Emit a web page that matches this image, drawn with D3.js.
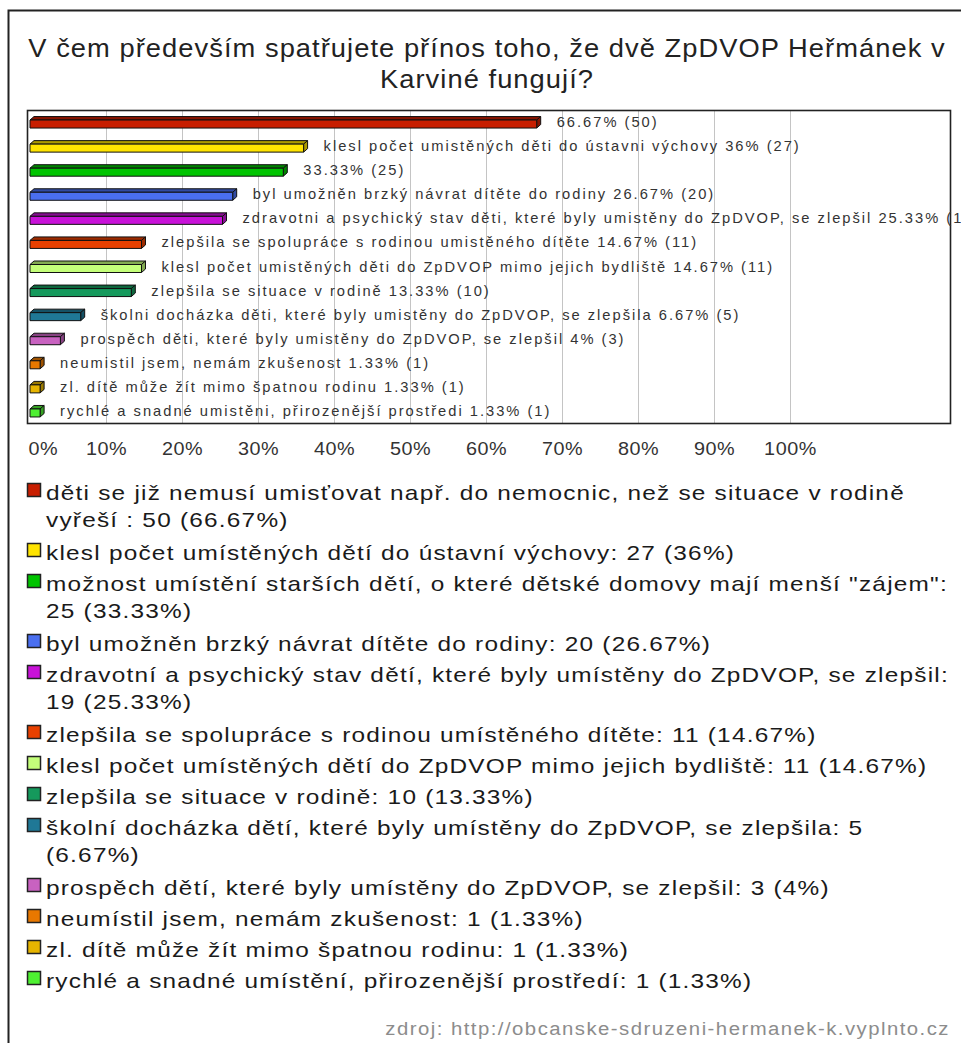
<!DOCTYPE html>
<html>
<head>
<meta charset="utf-8">
<script src="https://cdn.jsdelivr.net/npm/d3@7/dist/d3.min.js"></script>
<style>
  html, body { margin: 0; padding: 0; background: #fff; overflow: hidden; }
  svg { display: block; }
  text { font-family: "Liberation Sans", Arial, Helvetica, sans-serif; }
</style>
</head>
<body>
<svg id="chart" width="961" height="1043"></svg>
<script>
// ---------------- data ----------------
const titleLines = ["V čem především spatřujete přínos toho, že dvě ZpDVOP Heřmánek v", "Karviné fungují?"];
const categories = [
  "děti se již nemusí umisťovat např. do nemocnic, než se situace v rodině vyřeší ",
  "klesl počet umístěných dětí do ústavní výchovy",
  "možnost umístění starších dětí, o které dětské domovy mají menší \"zájem\"",
  "byl umožněn brzký návrat dítěte do rodiny",
  "zdravotní a psychický stav dětí, které byly umístěny do ZpDVOP, se zlepšil",
  "zlepšila se spolupráce s rodinou umístěného dítěte",
  "klesl počet umístěných dětí do ZpDVOP mimo jejich bydliště",
  "zlepšila se situace v rodině",
  "školní docházka dětí, které byly umístěny do ZpDVOP, se zlepšila",
  "prospěch dětí, které byly umístěny do ZpDVOP, se zlepšil",
  "neumístil jsem, nemám zkušenost",
  "zl. dítě může žít mimo špatnou rodinu",
  "rychlé a snadné umístění, přirozenější prostředí"
];
const barLabels = [
  "",
  "klesl počet umistěných děti do ústavni výchovy",
  "",
  "byl umožněn brzký návrat dítěte do rodiny",
  "zdravotni a psychický stav děti, které byly umistěny do ZpDVOP, se zlepšil",
  "zlepšila se spolupráce s rodinou umistěného dítěte",
  "klesl počet umistěných děti do ZpDVOP mimo jejich bydliště",
  "zlepšila se situace v rodině",
  "školni docházka děti, které byly umistěny do ZpDVOP, se zlepšila",
  "prospěch děti, které byly umistěny do ZpDVOP, se zlepšil",
  "neumistil jsem, nemám zkušenost",
  "zl. dítě může žít mimo špatnou rodinu",
  "rychlé a snadné umistěni, přirozenější prostředi"
];
const counts   = [50, 27, 25, 20, 19, 11, 11, 10, 5, 3, 1, 1, 1];
const percents = [66.67, 36, 33.33, 26.67, 25.33, 14.67, 14.67, 13.33, 6.67, 4, 1.33, 1.33, 1.33];
const colors = ["#c81e00", "#ffe400", "#00c400", "#4a6ff0", "#c812d8", "#e84000", "#c4ff7a",
                "#15995c", "#1f7896", "#c862c0", "#e87800", "#e6b400", "#4ef032"];
const xTicks = [0, 10, 20, 30, 40, 50, 60, 70, 80, 90, 100];
const sourceText = "zdroj: http://obcanske-sdruzeni-hermanek-k.vyplnto.cz";

// ---------------- layout ----------------
const svg = d3.select("#chart");
const plot = {left: 27, right: 950, top: 110, bottom: 423};

// outer frame
svg.append("rect").attr("x", 8.5).attr("y", 10.5).attr("width", 1000).attr("height", 1100)
  .attr("fill", "#fff").attr("stroke", "#222").attr("stroke-width", 2);

function stext(parent, x, y, str, o) {
  const g = parent.append("g").attr("transform", `translate(${x},${y}) scale(${o.sx},1)`);
  const t = g.append("text").text(str)
    .attr("font-size", o.size)
    .attr("letter-spacing", o.ls)
    .attr("fill", o.fill || "#222")
    .attr("text-anchor", o.anchor || "start");
  return t;
}

// title
titleLines.forEach((line, i) => {
  stext(svg, 487, 57 + i * 31, line, {size: 26, sx: 1.05, ls: 1.0, anchor: "middle", fill: "#222"});
});

// scales
const x = d3.scaleLinear().domain([0, 100]).range([30, 790]);
const y = d3.scaleBand().domain(d3.range(categories.length)).range([plot.top, plot.bottom]);

// gridlines
svg.append("g").selectAll("line").data(xTicks.filter(d => d > 0)).join("line")
  .attr("x1", d => Math.round(x(d)) + 0.5).attr("x2", d => Math.round(x(d)) + 0.5)
  .attr("y1", plot.top).attr("y2", plot.bottom)
  .attr("stroke", "#c4c4c4").attr("stroke-width", 1);

// plot box
svg.append("rect").attr("x", plot.left + 0.5).attr("y", plot.top + 0.5)
  .attr("width", plot.right - plot.left).attr("height", plot.bottom - plot.top)
  .attr("fill", "none").attr("stroke", "#222").attr("stroke-width", 1.6);

// 3D bars
const dx = 4, dy = 3.5;
const bars = svg.append("g");
percents.forEach((v, i) => {
  const c = y(i) + y.bandwidth() / 2;
  const x0 = x(0), x1 = x(v);
  const base = d3.color(colors[i]);
  const dark = base.darker(1.1).formatHex();
  const top = c - 2, bot = c + 6;
  const g = bars.append("g").attr("stroke", "#111").attr("stroke-width", 1).attr("stroke-linejoin", "round");
  g.append("path").attr("d", `M${x0},${top} L${x0 + dx},${top - dy} L${x1 + dx},${top - dy} L${x1},${top} Z`).attr("fill", dark);
  g.append("path").attr("d", `M${x1},${top} L${x1 + dx},${top - dy} L${x1 + dx},${bot - dy} L${x1},${bot} Z`).attr("fill", dark);
  g.append("rect").attr("x", x0).attr("y", top).attr("width", x1 - x0).attr("height", bot - top).attr("fill", colors[i]);
  const lbl = (barLabels[i] ? barLabels[i] + " " : "") + percents[i] + "% (" + counts[i] + ")";
  stext(svg, x1 + 20, c + 5, lbl, {size: 14, sx: 1.05, ls: 1.9, fill: "#333"});
});

// x axis tick labels
const axis = svg.append("g").attr("transform", `translate(0, 455)`)
  .call(d3.axisBottom(x).tickValues(xTicks).tickFormat(d => d + "%").tickSize(0).tickPadding(0));
axis.select(".domain").remove();
axis.selectAll("text")
  .attr("font-family", '"Liberation Sans", Arial, sans-serif')
  .attr("font-size", 18).attr("fill", "#333").attr("dy", 0).attr("y", 0)
  .attr("letter-spacing", 0.5)
  .attr("transform", "scale(1.1,1)");
axis.selectAll(".tick").filter(d => d === 0).select("text")
  .attr("text-anchor", "start").attr("x", -2 / 1.1);

// legend
const leg = {x: 27, textX: 46, top: 483, size: 20, sx: 1.22, ls: 1.0, maxW: 910, line: 27, single: 31, extra: 29};
let ty = leg.top;
const measure = svg.append("text").attr("font-size", leg.size).attr("letter-spacing", leg.ls).attr("opacity", 0);
function wrap(str) {
  const words = str.split(/ +/);
  const lines = [];
  let cur = "";
  words.forEach(w => {
    const test = cur ? cur + " " + w : w;
    measure.text(test);
    if (cur && measure.node().getComputedTextLength() * leg.sx > leg.maxW) {
      lines.push(cur); cur = w;
    } else cur = test;
  });
  if (cur) lines.push(cur);
  return lines;
}
categories.forEach((cat, i) => {
  const str = cat + ": " + counts[i] + " (" + percents[i] + "%)";
  const lines = wrap(str);
  svg.append("rect").attr("x", leg.x + 0.5).attr("y", ty + 0.5).attr("width", 13).attr("height", 13)
    .attr("fill", colors[i]).attr("stroke", "#222").attr("stroke-width", 1.5);
  lines.forEach((ln, k) => {
    stext(svg, leg.textX, ty + 17 + k * leg.line, ln, {size: leg.size, sx: leg.sx, ls: leg.ls, fill: "#1a1a1a"});
  });
  ty += leg.single + (lines.length - 1) * leg.extra;
});
measure.remove();

// source
stext(svg, 950, 1035, sourceText, {size: 18, sx: 1.13, ls: 1.3, anchor: "end", fill: "#8c8c8c"});
</script>
</body>
</html>
